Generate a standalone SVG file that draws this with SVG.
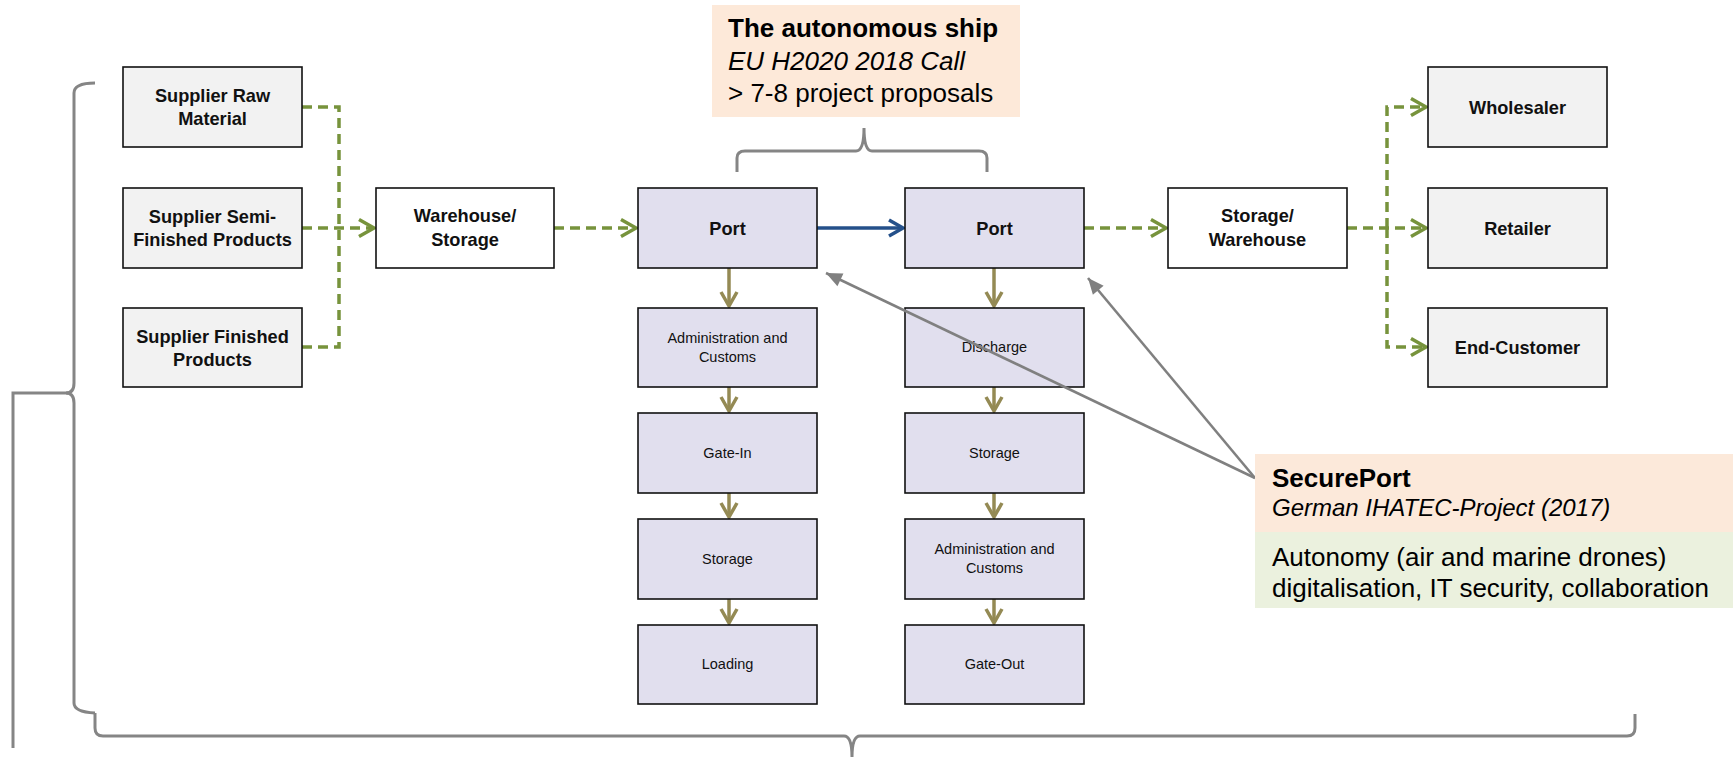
<svg xmlns="http://www.w3.org/2000/svg" width="1735" height="757" viewBox="0 0 1735 757">
<style>
.box{stroke:#111;stroke-width:1.6}
.sup{fill:#F2F2F2}
.wh{fill:#FFFFFF}
.port{fill:#E1DFEE}
.t{font-family:"Liberation Sans",Arial,sans-serif;fill:#111;text-anchor:middle}
.b{font-weight:bold;font-size:18.2px}
.s{font-size:14.5px}
.big{font-family:"Liberation Sans",Arial,sans-serif;font-size:26px;fill:#000}
.mid{font-size:24px}
.dash{fill:none;stroke:#77933C;stroke-width:3.5;stroke-dasharray:10,6}
.olive{fill:none;stroke:#948A54;stroke-width:3.5}
.blue{fill:none;stroke:#24508A;stroke-width:3.5}
.gray{fill:none;stroke:#808080;stroke-width:2.6}
.brace{fill:none;stroke:#858585;stroke-width:3}
</style>
<defs>
<marker id="ag" markerUnits="userSpaceOnUse" markerWidth="30" markerHeight="30" refX="0" refY="0" viewBox="-20 -15 30 30" orient="auto" overflow="visible">
<path d="M-15,-8.5 L0,0 L-15,8.5" fill="none" stroke="#77933C" stroke-width="3.5"/>
</marker>
<marker id="ao" markerUnits="userSpaceOnUse" markerWidth="30" markerHeight="30" refX="0" refY="0" viewBox="-20 -15 30 30" orient="auto" overflow="visible">
<path d="M-14,-8 L0,0 L-14,8" fill="none" stroke="#948A54" stroke-width="3.5"/>
</marker>
<marker id="ab" markerUnits="userSpaceOnUse" markerWidth="30" markerHeight="30" refX="0" refY="0" viewBox="-20 -15 30 30" orient="auto" overflow="visible">
<path d="M-14,-8 L0,0 L-14,8" fill="none" stroke="#24508A" stroke-width="3.5"/>
</marker>
<marker id="ay" markerUnits="userSpaceOnUse" markerWidth="30" markerHeight="30" refX="0" refY="0" viewBox="-20 -15 30 30" orient="auto" overflow="visible">
<path d="M-16,-7 L0,0 L-16,7 Z" fill="#808080"/>
</marker>
</defs>

<g id="braces">
<path class="brace" d="M95,83 Q74,83 74,93 V383 Q74,393 66,393 Q74,393 74,403 V703 Q74,712 95,713"/>
<path class="brace" d="M68,393 H13 V748"/>
<path class="brace" d="M95,713 V728 Q95,736 103,736 H844 Q852,736 852,757 Q852,736 860,736 H1627 Q1635,736 1635,728 V714"/>
<path class="brace" d="M737,172 V158 Q737,151 745,151 H856 Q864,151 864,128 Q864,151 872,151 H979 Q987,151 987,158 V172"/>
</g>

<g id="connectors">
<path class="dash" d="M302,107 H339 V347 H302"/>
<path class="dash" d="M302,228 H374" marker-end="url(#ag)"/>
<path class="dash" d="M554,228 H636" marker-end="url(#ag)"/>
<path class="blue" d="M817,228 H903" marker-end="url(#ab)"/>
<path class="dash" d="M1084,228 H1166" marker-end="url(#ag)"/>
<path class="dash" d="M1347,228 H1426" marker-end="url(#ag)"/>
<path class="dash" d="M1387,228 V107 H1426" marker-end="url(#ag)"/>
<path class="dash" d="M1387,228 V347 H1426" marker-end="url(#ag)"/>
<path class="olive" d="M729,268 V306" marker-end="url(#ao)"/>
<path class="olive" d="M729,387 V411" marker-end="url(#ao)"/>
<path class="olive" d="M729,493 V517" marker-end="url(#ao)"/>
<path class="olive" d="M729,599 V623" marker-end="url(#ao)"/>
<path class="olive" d="M994,268 V306" marker-end="url(#ao)"/>
<path class="olive" d="M994,387 V411" marker-end="url(#ao)"/>
<path class="olive" d="M994,493 V517" marker-end="url(#ao)"/>
<path class="olive" d="M994,599 V623" marker-end="url(#ao)"/>
</g>

<g id="n-sup-raw"><rect class="box sup" x="123" y="67" width="179" height="80"/><text class="t b" x="212.5" y="102">Supplier Raw</text><text class="t b" x="212.5" y="125">Material</text></g>
<g id="n-sup-semi"><rect class="box sup" x="123" y="188" width="179" height="80"/><text class="t b" x="212.5" y="223">Supplier Semi-</text><text class="t b" x="212.5" y="246">Finished Products</text></g>
<g id="n-sup-fin"><rect class="box sup" x="123" y="308" width="179" height="79"/><text class="t b" x="212.5" y="343">Supplier Finished</text><text class="t b" x="212.5" y="366">Products</text></g>
<g id="n-warehouse"><rect class="box wh" x="376" y="188" width="178" height="80"/><text class="t b" x="465" y="222">Warehouse/</text><text class="t b" x="465" y="246">Storage</text></g>

<g id="n-port1"><rect class="box port" x="638" y="188" width="179" height="80"/><text class="t b" x="727.5" y="234.5">Port</text></g>
<g id="n-admin1"><rect class="box port" x="638" y="308" width="179" height="79"/><text class="t s" x="727.5" y="343">Administration and</text><text class="t s" x="727.5" y="362">Customs</text></g>
<g id="n-gatein"><rect class="box port" x="638" y="413" width="179" height="80"/><text class="t s" x="727.5" y="458">Gate-In</text></g>
<g id="n-storage1"><rect class="box port" x="638" y="519" width="179" height="80"/><text class="t s" x="727.5" y="564">Storage</text></g>
<g id="n-loading"><rect class="box port" x="638" y="625" width="179" height="79"/><text class="t s" x="727.5" y="669">Loading</text></g>

<g id="n-port2"><rect class="box port" x="905" y="188" width="179" height="80"/><text class="t b" x="994.5" y="234.5">Port</text></g>
<g id="n-discharge"><rect class="box port" x="905" y="308" width="179" height="79"/><text class="t s" x="994.5" y="352">Discharge</text></g>
<g id="n-storage2"><rect class="box port" x="905" y="413" width="179" height="80"/><text class="t s" x="994.5" y="458">Storage</text></g>
<g id="n-admin2"><rect class="box port" x="905" y="519" width="179" height="80"/><text class="t s" x="994.5" y="554">Administration and</text><text class="t s" x="994.5" y="573">Customs</text></g>
<g id="n-gateout"><rect class="box port" x="905" y="625" width="179" height="79"/><text class="t s" x="994.5" y="669">Gate-Out</text></g>

<g id="n-storage-wh"><rect class="box wh" x="1168" y="188" width="179" height="80"/><text class="t b" x="1257.5" y="222">Storage/</text><text class="t b" x="1257.5" y="246">Warehouse</text></g>
<g id="n-wholesaler"><rect class="box sup" x="1428" y="67" width="179" height="80"/><text class="t b" x="1517.5" y="113.5">Wholesaler</text></g>
<g id="n-retailer"><rect class="box sup" x="1428" y="188" width="179" height="80"/><text class="t b" x="1517.5" y="234.5">Retailer</text></g>
<g id="n-endcustomer"><rect class="box sup" x="1428" y="308" width="179" height="79"/><text class="t b" x="1517.5" y="354">End-Customer</text></g>

<g id="n-autonomous-ship">
<rect x="712" y="5" width="308" height="112" fill="#FDE9D9"/>
<text class="big" x="728" y="37" font-weight="bold">The autonomous ship</text>
<text class="big" x="728" y="70" font-style="italic">EU H2020 2018 Call</text>
<text class="big" x="728" y="102">&gt; 7-8 project proposals</text>
</g>

<g id="pointer-connectors">
<path class="gray" d="M1255,478 L826,273" marker-end="url(#ay)"/>
<path class="gray" d="M1255,478 L1088,278" marker-end="url(#ay)"/>
</g>

<g id="n-secureport">
<rect x="1255" y="454" width="478" height="78" fill="#FCE9DA"/>
<rect x="1255" y="532" width="478" height="76" fill="#EBF1DE"/>
<text class="big" x="1272" y="487" font-weight="bold">SecurePort</text>
<text class="big mid" x="1272" y="516" font-style="italic">German IHATEC-Project (2017)</text>
<text class="big" x="1272" y="566">Autonomy (air and marine drones)</text>
<text class="big" x="1272" y="597">digitalisation, IT security, collaboration</text>
</g>
</svg>
